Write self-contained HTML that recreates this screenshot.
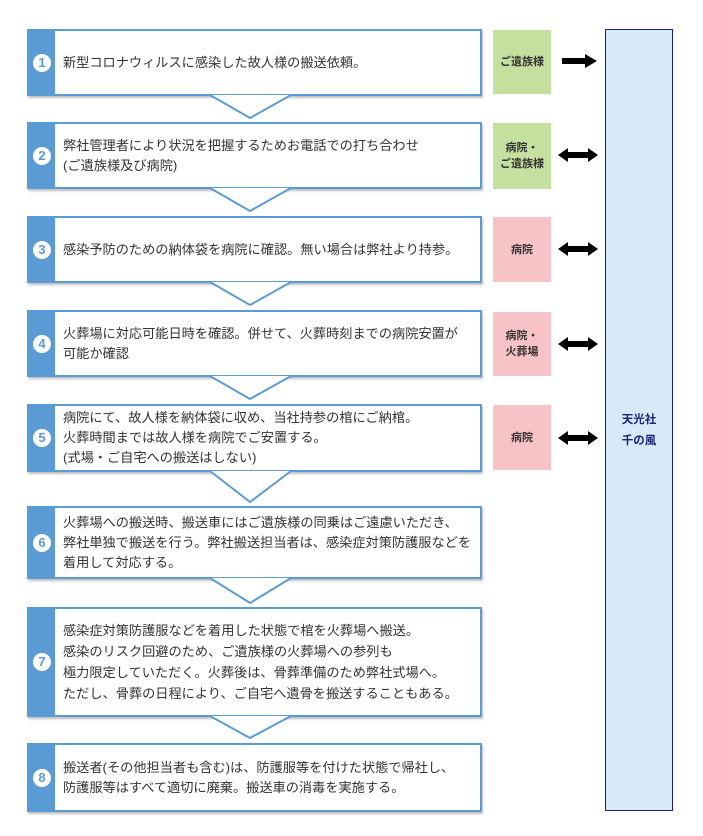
<!DOCTYPE html>
<html><head><meta charset="utf-8"><style>
body{margin:0;width:703px;height:836px;background:#fff;position:relative;overflow:hidden;font-family:"Liberation Sans","Noto Sans CJK JP",sans-serif;}
.box{position:absolute;left:27px;width:455px;background:#fff;border:2px solid #5b9bd5;box-sizing:border-box;box-shadow:1px 2px 2px rgba(0,0,0,.25);}
.bar{position:absolute;left:0;top:0;bottom:0;width:26px;background:#5b9bd5;}
.num{position:absolute;left:4px;top:50%;margin-top:-9px;width:18px;height:18px;border-radius:50%;background:#fff;color:#5b9bd5;font-size:13px;font-weight:bold;line-height:18px;text-align:center;}
.txt{position:absolute;left:34px;right:0;top:50%;transform:translateY(-50%);font-size:13.2px;line-height:20px;color:#333;white-space:nowrap;}
.tag{position:absolute;left:493px;width:58px;font-size:11px;font-weight:bold;color:#333;display:flex;align-items:center;justify-content:center;text-align:center;line-height:16px;}
.g{background:#c5df9f}.p{background:#f7c3c6}
svg{position:absolute;left:0;top:0}
</style></head><body>

<div class="box" style="top:29px;height:67px"><div class="bar"><div class="num">1</div></div><div class="txt">新型コロナウィルスに感染した故人様の搬送依頼。</div></div>
<div class="box" style="top:122px;height:67px"><div class="bar"><div class="num">2</div></div><div class="txt">弊社管理者により状況を把握するためお電話での打ち合わせ<br>(ご遺族様及び病院)</div></div>
<div class="box" style="top:216px;height:67px"><div class="bar"><div class="num">3</div></div><div class="txt">感染予防のための納体袋を病院に確認。無い場合は弊社より持参。</div></div>
<div class="box" style="top:310px;height:67px"><div class="bar"><div class="num">4</div></div><div class="txt">火葬場に対応可能日時を確認。併せて、火葬時刻までの病院安置が<br>可能か確認</div></div>
<div class="box" style="top:404px;height:68px"><div class="bar"><div class="num">5</div></div><div class="txt">病院にて、故人様を納体袋に収め、当社持参の棺にご納棺。<br>火葬時間までは故人様を病院でご安置する。<br>(式場・ご自宅への搬送はしない)</div></div>
<div class="box" style="top:506px;height:73px"><div class="bar"><div class="num">6</div></div><div class="txt">火葬場への搬送時、搬送車にはご遺族様の同乗はご遠慮いただき、<br>弊社単独で搬送を行う。弊社搬送担当者は、感染症対策防護服などを<br>着用して対応する。</div></div>
<div class="box" style="top:607px;height:110px"><div class="bar"><div class="num">7</div></div><div class="txt" style="line-height:21px">感染症対策防護服などを着用した状態で棺を火葬場へ搬送。<br>感染のリスク回避のため、ご遺族様の火葬場への参列も<br>極力限定していただく。火葬後は、骨葬準備のため弊社式場へ。<br>ただし、骨葬の日程により、ご自宅へ遺骨を搬送することもある。</div></div>
<div class="box" style="top:743px;height:69px"><div class="bar"><div class="num">8</div></div><div class="txt">搬送者(その他担当者も含む)は、防護服等を付けた状態で帰社し、<br>防護服等はすべて適切に廃棄。搬送車の消毒を実施する。</div></div>

<svg width="703" height="836">
<g fill="#fff" stroke="#5b9bd5" stroke-width="2">
<polyline points="210,95 250,118 291,95"/>
<polyline points="210,188 250,211 291,188"/>
<polyline points="210,282 250,305 291,282"/>
<polyline points="210,376 250,399 291,376"/>
<polyline points="210,471 250,502 291,471"/>
<polyline points="210,578 250,603 291,578"/>
<polyline points="210,716 250,738 291,716"/>
</g>
<g fill="#000">
<polygon points="562,58 585,58 585,54 597,61 585,68 585,64 562,64"/>
<polygon points="558,155 568,148 568,152 588,152 588,148 598,155 588,162 588,158 568,158 568,162"/>
<polygon points="558,249 568,242 568,246 588,246 588,242 598,249 588,256 588,252 568,252 568,256"/>
<polygon points="558,344 568,337 568,341 588,341 588,337 598,344 588,351 588,347 568,347 568,351"/>
<polygon points="558,438 568,431 568,435 588,435 588,431 598,438 588,445 588,441 568,441 568,445"/>
</g>
</svg>

<div class="tag g" style="top:30px;height:64px">ご遺族様</div>
<div class="tag g" style="top:123px;height:66px">病院・<br>ご遺族様</div>
<div class="tag p" style="top:217px;height:65px">病院</div>
<div class="tag p" style="top:312px;height:64px">病院・<br>火葬場</div>
<div class="tag p" style="top:405px;height:65px">病院</div>

<div style="position:absolute;left:605px;top:29px;width:68px;height:782px;box-sizing:border-box;background:#d6eaf8;border:1px solid #1a1a80;"></div>
<div style="position:absolute;left:605px;top:410px;width:68px;text-align:center;color:#1a237e;font-size:11.5px;font-weight:bold;line-height:21px;">天光社<br>千の風</div>
</body></html>
